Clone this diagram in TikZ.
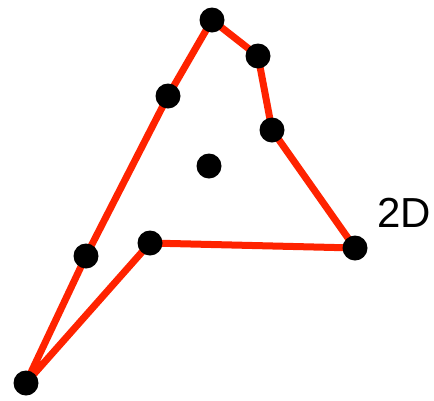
\documentclass[tikz,border=0pt]{standalone}
\usepackage{fontspec}
\setmainfont{Liberation Sans}
\definecolor{polyred}{RGB}{255,35,0}
\begin{document}
\begin{tikzpicture}[x=1pt,y=-1pt,
  pt/.style={circle,fill=black,inner sep=0pt,minimum size=25pt},
  edge/.style={draw=polyred,line width=7pt,line join=round}]
\useasboundingbox (0,0) rectangle (434,400);
\coordinate (p1) at (26,383);
\coordinate (p2) at (86,256);
\coordinate (p3) at (168,96);
\coordinate (p4) at (212,20);
\coordinate (p5) at (258,56);
\coordinate (p6) at (272,130);
\coordinate (p7) at (355,248);
\coordinate (p8) at (150,243);
\coordinate (c) at (209,166);
\draw[edge] (p1) -- (p2) -- (p3) -- (p4) -- (p5) -- (p6) -- (p7) -- (p8) -- cycle;
\foreach \p in {p1,p2,p3,p4,p5,p6,p7,p8,c}
  \node[pt] at (\p) {};
\node[font=\fontsize{42}{42}\selectfont,inner sep=0pt] (lbl) at (404,213) {2D};
\end{tikzpicture}
\end{document}
